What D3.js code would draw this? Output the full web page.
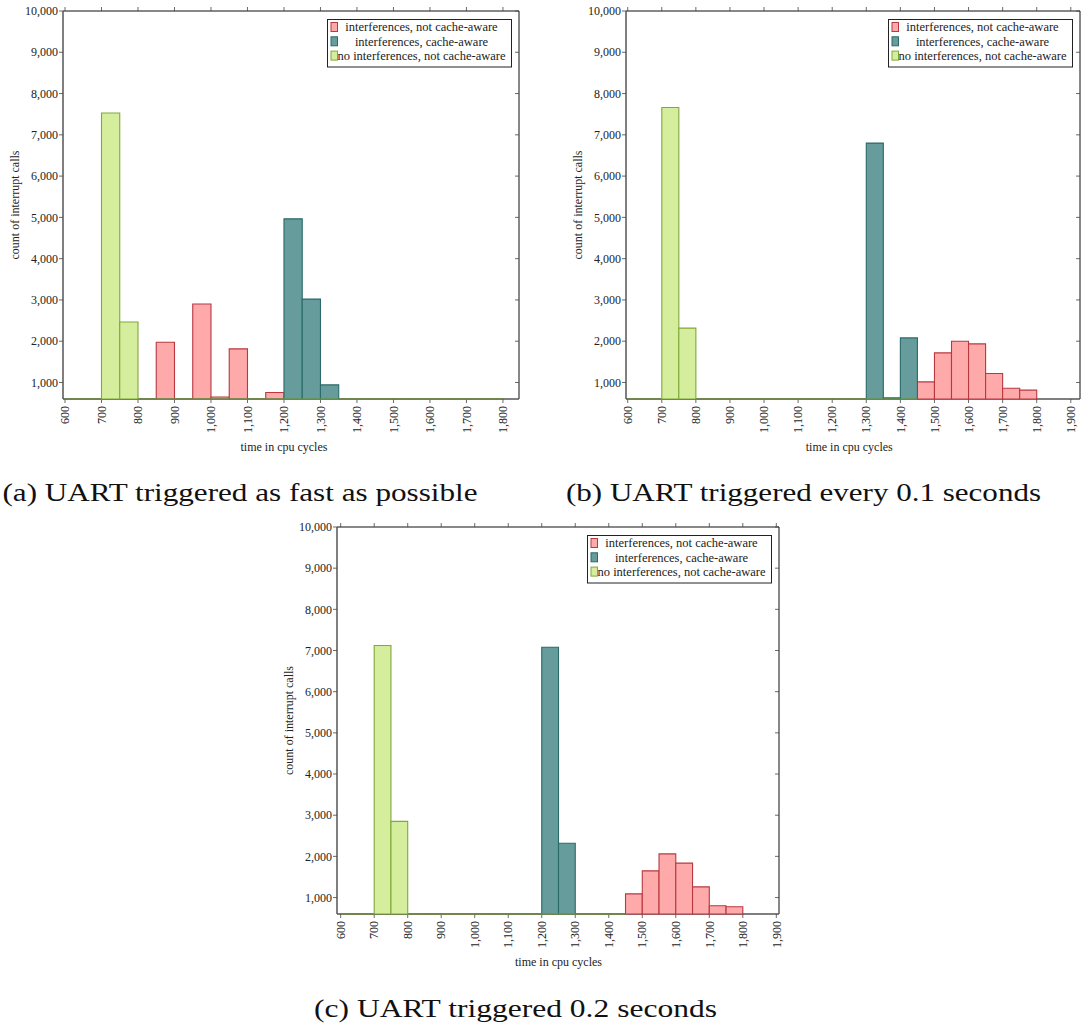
<!DOCTYPE html>
<html>
<head>
<meta charset="utf-8">
<script src="https://cdn.jsdelivr.net/npm/d3@7"></script>
<style>body{margin:0;background:#fff}</style>
</head>
<body>
<div id="chart"></div>
<script>
var w = 1082, h = 1026;

// histogram bins: 50 cycles wide, first bin starts at 600
var binStart = 600, binWidth = 50;
var xTicksA = [600,700,800,900,1000,1100,1200,1300,1400,1500,1600,1700,1800];
var xTicksBC = [600,700,800,900,1000,1100,1200,1300,1400,1500,1600,1700,1800,1900];
var yTicks = [1000,2000,3000,4000,5000,6000,7000,8000,9000,10000];
var seriesNames = ["interferences, not cache-aware", "interferences, cache-aware", "no interferences, not cache-aware"];
var captions = ["(a) UART triggered as fast as possible", "(b) UART triggered every 0.1 seconds", "(c) UART triggered 0.2 seconds"];

// counts per bin (600, 650, 700, ...)
var redA   = [0,0,0,0,0,1975,0,2900,650,1815,0,757,0,0,0,0,0,0,0,0,0,0,0,0];
var tealA  = [0,0,0,0,0,0,0,0,0,0,0,0,4965,3020,942,0,0,0,0,0,0,0,0,0];
var greenA = [0,0,7530,2465,0,0,0,0,0,0,0,0,0,0,0,0,0,0,0,0,0,0,0,0];

var redB   = [0,0,0,0,0,0,0,0,0,0,0,0,0,0,0,0,0,1015,1717,2000,1935,1218,862,814];
var tealB  = [0,0,0,0,0,0,0,0,0,0,0,0,0,0,6800,627,2080];
var greenB = [0,0,7663,2318,0,0,0,0,0,0,0,0,0,0,0,0,0];

var redC   = [0,0,0,0,0,0,0,0,0,0,0,0,0,0,0,0,0,1090,1648,2060,1835,1260,800,775];
var tealC  = [0,0,0,0,0,0,0,0,0,0,0,0,7080,2320,0,0,0];
var greenC = [0,0,7120,2850,0,0,0,0,0,0,0,0,0,0,0,0,0];

var fills   = ["#ffaaaa", "#669c9c", "#d5ee9e"];
var strokes = ["#b8383f", "#2a6a6a", "#80a83a"];

var panels = [
  {left:63,  right:519,  top:11,  bottom:399, xdom:[594.5,1844], ticks:xTicksA,  data:[redA,tealA,greenA], cap:captions[0], capX:240,   capY:501,  capW:475},
  {left:626, right:1080, top:11,  bottom:399, xdom:[595,1927],   ticks:xTicksBC, data:[redB,tealB,greenB], cap:captions[1], capX:803.5, capY:501,  capW:475},
  {left:337, right:779,  top:527, bottom:914, xdom:[589,1908],   ticks:xTicksBC, data:[redC,tealC,greenC], cap:captions[2], capX:515.5, capY:1017, capW:403}
];

var svg = d3.select("#chart").append("svg").attr("width", w).attr("height", h);
var font = "Liberation Serif";
var fmt = d3.format(",");

function drawPanel(p) {
  var x = d3.scaleLinear().domain(p.xdom).range([p.left, p.right]);
  var y = d3.scaleLinear().domain([600, 10000]).range([p.bottom, p.top]);
  var g = svg.append("g");

  // frame: left/bottom gray, top/right black
  g.append("line").attr("x1", p.left).attr("x2", p.right).attr("y1", p.top).attr("y2", p.top)
    .attr("stroke", "#111").attr("stroke-width", 1);
  g.append("line").attr("x1", p.right).attr("x2", p.right).attr("y1", p.top).attr("y2", p.bottom)
    .attr("stroke", "#111").attr("stroke-width", 1);
  g.append("line").attr("x1", p.left).attr("x2", p.left).attr("y1", p.top).attr("y2", p.bottom)
    .attr("stroke", "#555").attr("stroke-width", 1.5);
  g.append("line").attr("x1", p.left).attr("x2", p.right).attr("y1", p.bottom).attr("y2", p.bottom)
    .attr("stroke", "#555").attr("stroke-width", 1.5);

  // x ticks (bottom + top)
  p.ticks.forEach(function(t) {
    g.append("line").attr("x1", x(t)).attr("x2", x(t)).attr("y1", p.bottom).attr("y2", p.bottom + 4)
      .attr("stroke", "#444").attr("stroke-width", 0.8);
    g.append("line").attr("x1", x(t)).attr("x2", x(t)).attr("y1", p.top).attr("y2", p.top - 4)
      .attr("stroke", "#444").attr("stroke-width", 0.8);
    g.append("text").text(fmt(t))
      .attr("transform", "translate(" + x(t) + "," + (p.bottom + 7) + ") rotate(-90)")
      .attr("dy", "0.35em").attr("text-anchor", "end")
      .attr("font-family", font).attr("font-size", 12).attr("fill", "#222");
  });

  // y ticks (left + right)
  yTicks.forEach(function(t) {
    g.append("line").attr("x1", p.left - 4).attr("x2", p.left).attr("y1", y(t)).attr("y2", y(t))
      .attr("stroke", "#444").attr("stroke-width", 0.8);
    g.append("line").attr("x1", p.right - 4).attr("x2", p.right).attr("y1", y(t)).attr("y2", y(t))
      .attr("stroke", "#444").attr("stroke-width", 0.8);
    g.append("text").text(fmt(t))
      .attr("x", p.left - 5).attr("y", y(t)).attr("dy", "0.35em").attr("text-anchor", "end")
      .attr("font-family", font).attr("font-size", 12).attr("fill", "#222");
  });

  // bars, drawn as outlined paths so empty bins still show a line on the axis
  p.data.forEach(function(vals, si) {
    vals.forEach(function(v, i) {
      var x0 = x(binStart + i * binWidth), x1 = x(binStart + (i + 1) * binWidth);
      var yt = y(Math.max(v, 600)), yb = y(600);
      g.append("path")
        .attr("d", "M" + x0 + "," + yb + "V" + yt + "H" + x1 + "V" + yb + "Z")
        .attr("fill", fills[si]).attr("stroke", strokes[si]).attr("stroke-width", 1.1);
    });
  });

  // axis labels
  var first = p.ticks[0], last = p.ticks[p.ticks.length - 1];
  g.append("text").text("time in cpu cycles")
    .attr("x", x((first + last) / 2)).attr("y", p.bottom + 48).attr("dy", "0.35em")
    .attr("text-anchor", "middle").attr("font-family", font).attr("font-size", 12).attr("fill", "#222");
  g.append("text").text("count of interrupt calls")
    .attr("transform", "translate(" + (p.left - 48) + "," + ((p.top + p.bottom) / 2) + ") rotate(-90)")
    .attr("dy", "0.35em").attr("text-anchor", "middle")
    .attr("font-family", font).attr("font-size", 12).attr("fill", "#222");

  // legend
  var lw = 184, lh = 47.5;
  var lx = p.right - 7.5 - lw, ly = p.top + 8.5;
  g.append("rect").attr("x", lx).attr("y", ly).attr("width", lw).attr("height", lh)
    .attr("fill", "#fff").attr("stroke", "#222").attr("stroke-width", 1);
  seriesNames.forEach(function(name, si) {
    var ry = ly + 3 + si * 14.3;
    g.append("rect").attr("x", lx + 3.5).attr("y", ry).attr("width", 6.5).attr("height", 9)
      .attr("fill", fills[si]).attr("stroke", strokes[si]).attr("stroke-width", 1);
    g.append("text").text(name)
      .attr("x", lx + 94).attr("y", ry + 4.5).attr("dy", "0.35em").attr("text-anchor", "middle")
      .attr("font-family", font).attr("font-size", 12.5).attr("fill", "#222");
  });

  // caption
  svg.append("text").text(p.cap)
    .attr("x", p.capX).attr("y", p.capY).attr("text-anchor", "middle")
    .attr("textLength", p.capW).attr("lengthAdjust", "spacingAndGlyphs")
    .attr("font-family", font).attr("font-size", 26).attr("fill", "#111");
}

panels.forEach(drawPanel);
</script>
</body>
</html>
